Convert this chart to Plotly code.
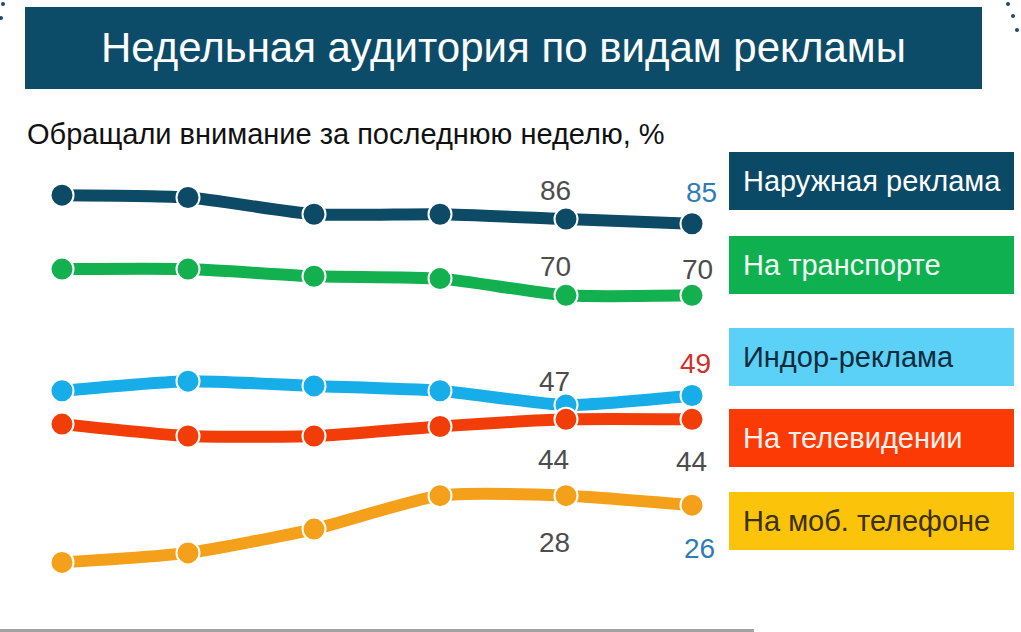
import plotly.graph_objects as go

W, H = 1021, 632

periods = [0, 1, 2, 3, 4, 5]
series_names = ["Наружная реклама", "На транспорте", "Индор-реклама", "На телевидении", "На моб. телефоне"]
outdoor = [91, 90.5, 87, 87, 86, 85]
transport = [75.5, 75.5, 74, 73.5, 70, 70]
indoor = [50, 52, 51, 50, 47, 49]
tv = [43, 40.5, 40.5, 42.5, 44, 44]
mobile = [14, 16, 21, 28, 28, 26]
series_values = [outdoor, transport, indoor, tv, mobile]

line_colors = ["#0d4a66", "#12b04f", "#16ade8", "#f33d08", "#f5a01a"]
box_colors = ["#0b4a66", "#0fb04f", "#5bd1f7", "#fc3a05", "#fbc30a"]
box_text_colors = ["#ffffff", "#f2fff5", "#0b2a3c", "#fff2ec", "#3a3000"]

# data labels: (series index, period index, text, color, dx px, dy px)
labels = [
    (0, 4, "86", "#4d4d4d", -11, -29),
    (0, 5, "85", "#2e7bb6", 9, -31),
    (1, 4, "70", "#4d4d4d", -11, -29),
    (1, 5, "70", "#4d4d4d", 5, -26),
    (2, 4, "47", "#4d4d4d", -12, -24),
    (2, 5, "49", "#d0312d", 3, -32),
    (3, 4, "44", "#4d4d4d", -13, 40),
    (3, 5, "44", "#4d4d4d", -1, 42),
    (4, 4, "28", "#4d4d4d", -12, 47),
    (4, 5, "26", "#2e7bb6", 7, 43),
]

title = "Недельная аудитория по видам рекламы"
subtitle = "Обращали внимание за последнюю неделю, %"

FONT = "Arial, Liberation Sans, sans-serif"

fig = go.Figure()
for name, vals, col in zip(series_names, series_values, line_colors):
    fig.add_trace(go.Scatter(
        x=periods, y=vals, name=name, mode="lines+markers",
        line=dict(color=col, width=12, shape="spline", smoothing=0.6),
        marker=dict(size=23, color=col, line=dict(color="white", width=2)),
        hoverinfo="skip", showlegend=False,
    ))

annotations = []
for si, pi, txt, col, dx, dy in labels:
    annotations.append(dict(
        x=periods[pi], y=series_values[si][pi], xref="x", yref="y",
        xanchor="center", yanchor="middle",
        text=txt, showarrow=False, xshift=dx, yshift=-dy,
        font=dict(family=FONT, size=28, color=col),
    ))

def px(x):
    return x / W

def py(y):
    return 1 - y / H

shapes = []
# title bar
shapes.append(dict(type="rect", xref="paper", yref="paper",
                   x0=px(25), x1=px(982), y0=py(89), y1=py(7),
                   fillcolor="#0c4c68", line=dict(width=0), layer="below"))
annotations.append(dict(x=px(503), y=py(48), xref="paper", yref="paper",
                        xanchor="center", yanchor="middle",
                        text=title, showarrow=False,
                        font=dict(family=FONT, size=42, color="white")))
annotations.append(dict(x=px(25), y=py(134), xref="paper", yref="paper",
                        xanchor="left", yanchor="middle", text=subtitle, showarrow=False,
                        font=dict(family=FONT, size=29, color="#111111")))

# legend boxes
box_tops = [152, 236, 328, 409, 492]
box_h = 58
for name, top, bc, tc in zip(series_names, box_tops, box_colors, box_text_colors):
    shapes.append(dict(type="rect", xref="paper", yref="paper",
                       x0=px(729), x1=px(1014), y0=py(top + box_h), y1=py(top),
                       fillcolor=bc, line=dict(width=0), layer="below"))
    annotations.append(dict(x=px(741), y=py(top + box_h / 2), xref="paper", yref="paper",
                            xanchor="left", yanchor="middle", text=name, showarrow=False,
                            font=dict(family=FONT, size=29, color=tc)))

# bottom grey rule
shapes.append(dict(type="rect", xref="paper", yref="paper",
                   x0=0, x1=px(754), y0=0, y1=py(629),
                   fillcolor="#a3a3a3", line=dict(width=0)))

# corner decoration dots
for cx, cy, r in [(3, 4, 2), (1, 18, 2), (1008, 4, 2), (1013, 16, 2), (1017, 30, 2)]:
    shapes.append(dict(type="circle", xref="paper", yref="paper",
                       x0=px(cx - r), x1=px(cx + r), y0=py(cy + r), y1=py(cy - r),
                       fillcolor="#1d4a66", line=dict(width=0)))

# axis ranges so that period 0 -> x=62px, period 5 -> x=692px; 86 -> y=219px (4.77 px/unit)
xs = (692 - 62) / 5
ys = 4.77
x_range = [-62 / xs, (W - 62) / xs]
y_range = [86 - (H - 219) / ys, 86 + 219 / ys]

fig.update_layout(
    width=W, height=H,
    margin=dict(l=0, r=0, t=0, b=0),
    paper_bgcolor="white", plot_bgcolor="white",
    xaxis=dict(range=x_range, visible=False, fixedrange=True),
    yaxis=dict(range=y_range, visible=False, fixedrange=True),
    shapes=shapes, annotations=annotations,
    showlegend=False,
)

fig.write_html(
    "out.html",
    config={"displayModeBar": False},
    post_script="document.body.style.margin='0';document.body.style.overflow='hidden';",
)
